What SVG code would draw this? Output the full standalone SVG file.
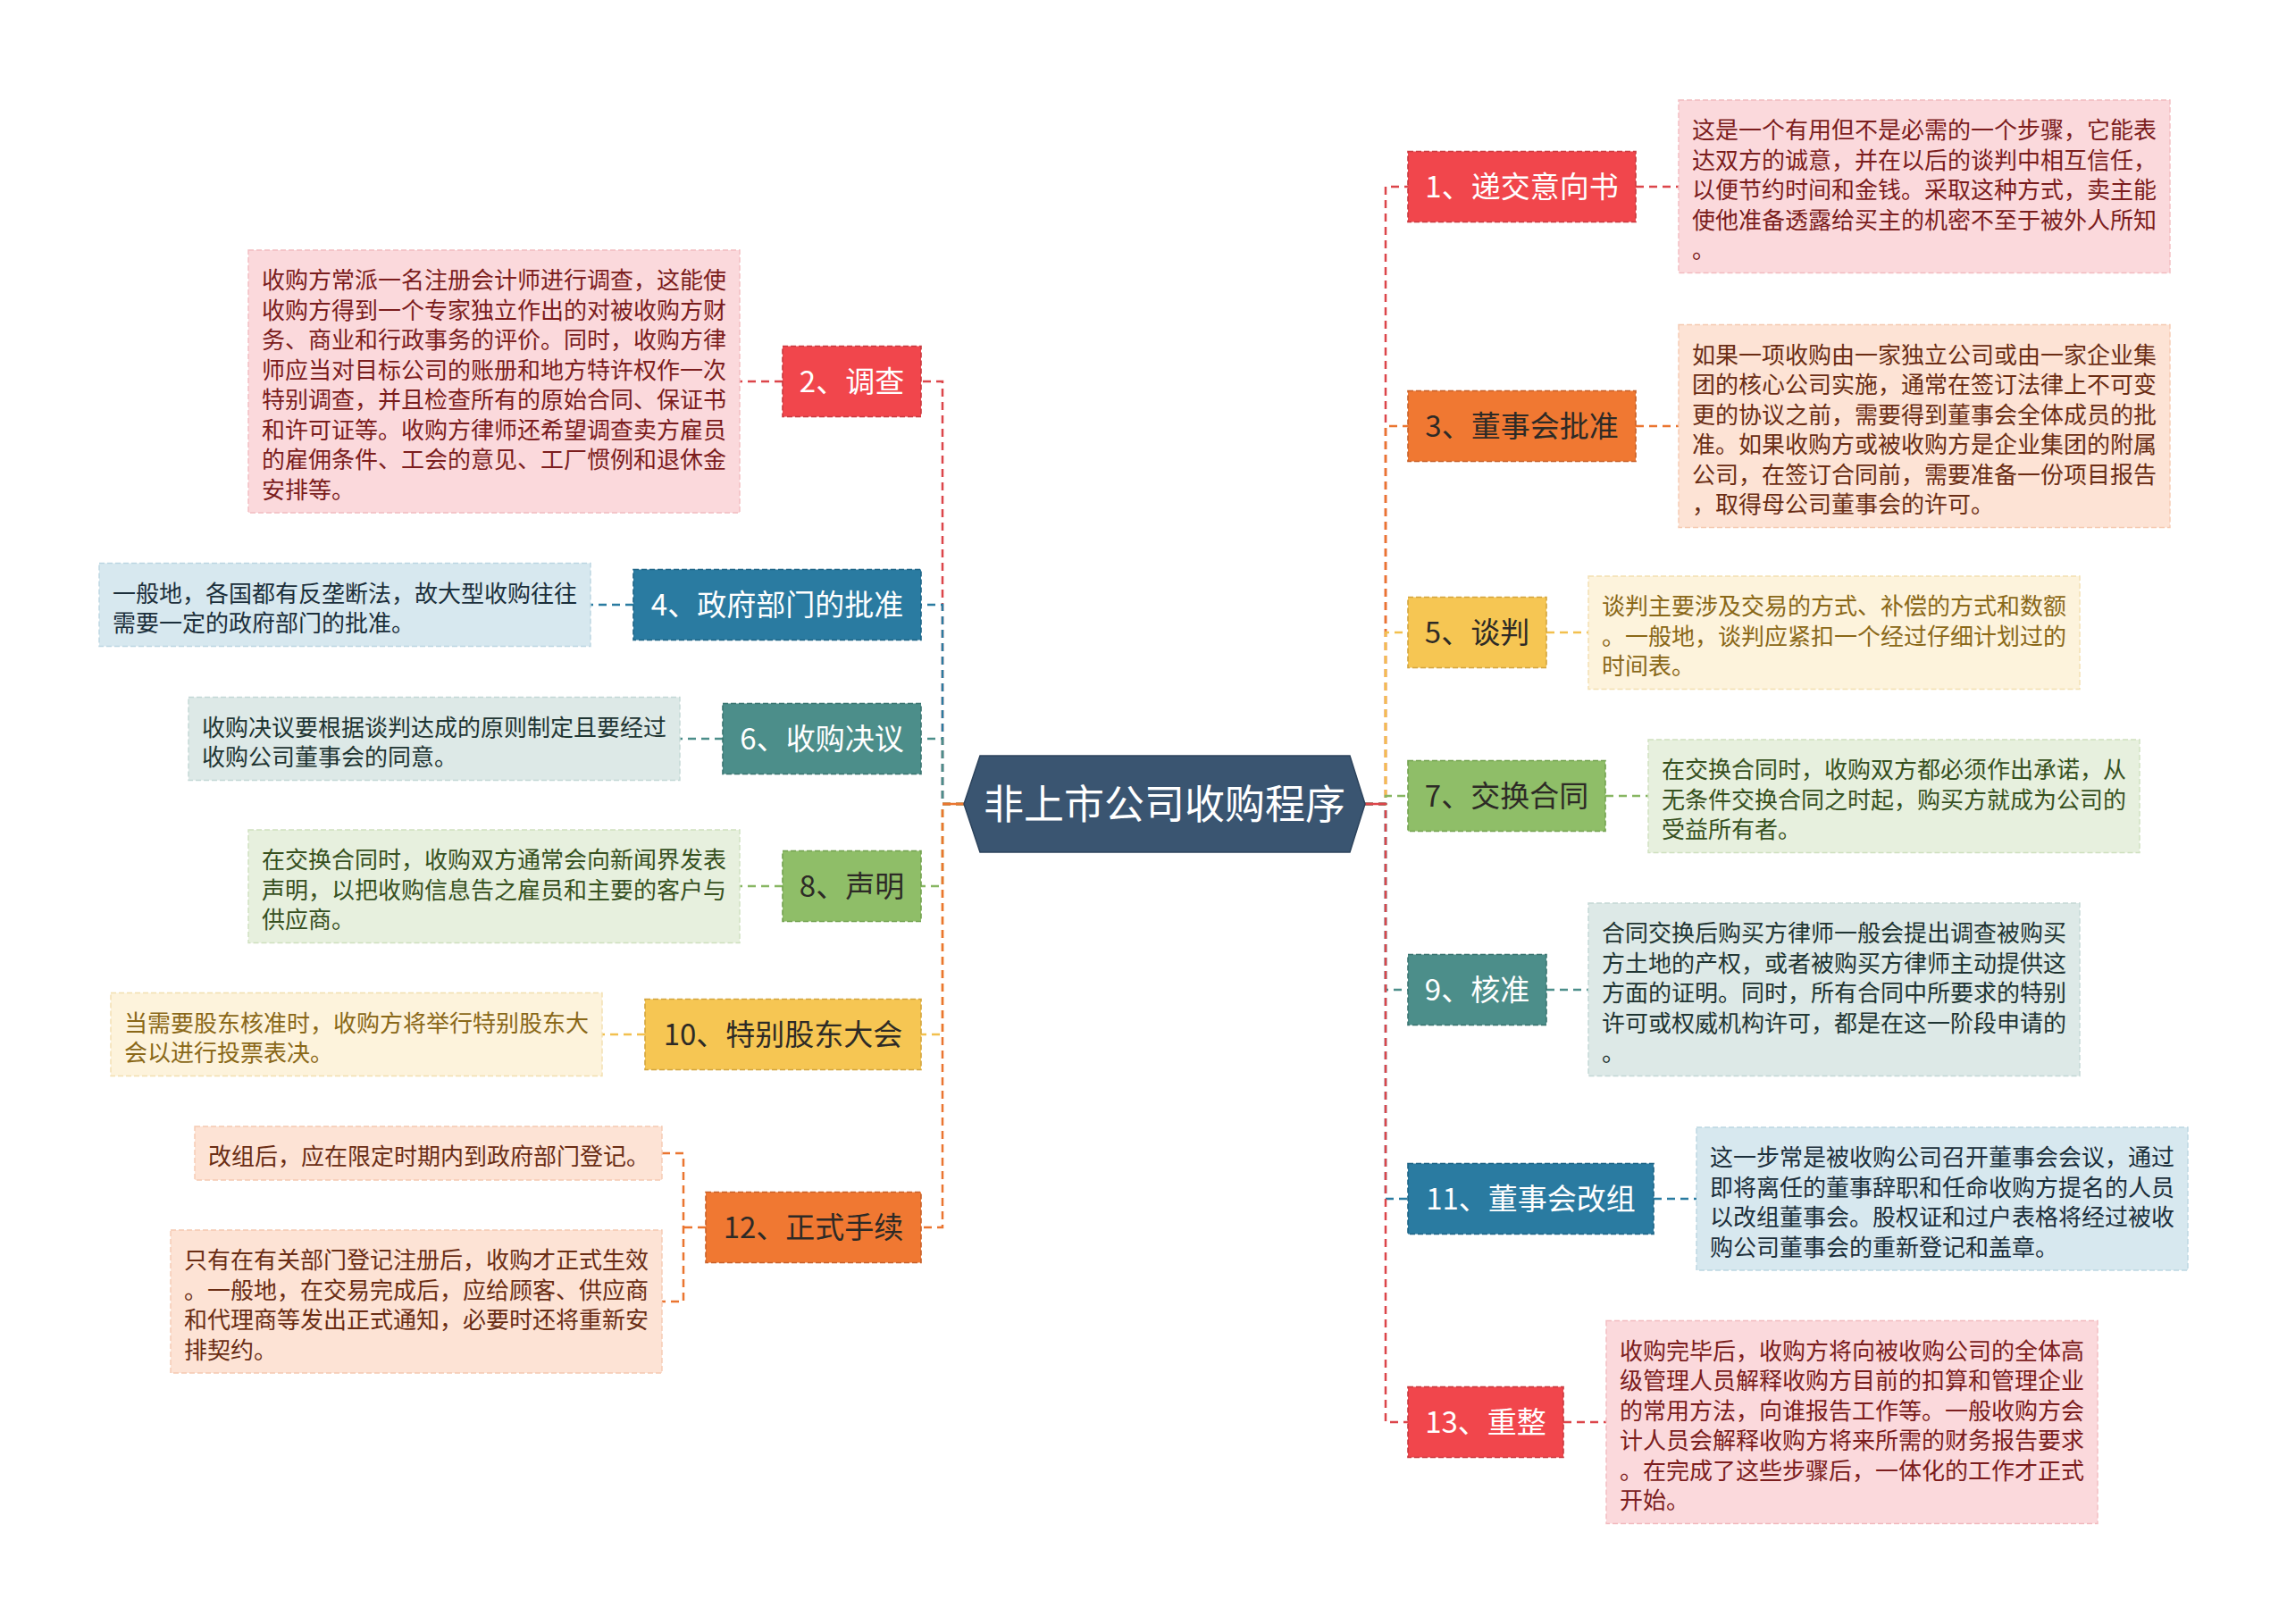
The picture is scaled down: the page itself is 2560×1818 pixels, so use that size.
<svg xmlns="http://www.w3.org/2000/svg" width="2560" height="1818" viewBox="0 0 2560 1818">
<style>
text{font-family:"Noto Sans CJK SC","Noto Sans",sans-serif}
.nt{font-size:33px;text-anchor:middle}
.dt{font-size:26px}
.e{fill:none;stroke-width:2.5;stroke-dasharray:9 6}
.nb{stroke-width:1.6;stroke-dasharray:6 3}
.db{stroke-width:1.4;stroke-dasharray:6 3}
.w{fill:#ffffff}.k{fill:#2d2a26}
.r{fill:#f1464c;stroke:#c93a3f}.o{fill:#f07832;stroke:#c8612a}.y{fill:#f6c653;stroke:#d3a53f}
.g{fill:#8fbe68;stroke:#73a250}.t{fill:#4c8e8a;stroke:#3b7571}.b{fill:#2a7ba1;stroke:#1f6586}
.er{stroke:#dc454a}.eo{stroke:#ea7530}.ey{stroke:#f2c04e}.eg{stroke:#87b662}.et{stroke:#4c8e8a}.eb{stroke:#2a7ba1}
.dr{fill:#fbd9dc;stroke:#f2bcc0}.do{fill:#fde3d5;stroke:#f5c9b1}.dy{fill:#fdf3dc;stroke:#f2dfb0}
.dg{fill:#e7f0de;stroke:#cfe0bf}.dtl{fill:#dde9e7;stroke:#c3d8d5}.dbl{fill:#d7e8ef;stroke:#bcd6e2}
.tr{fill:#7b1d1d}.to{fill:#6a2d14}.ty{fill:#8a6818}.tg{fill:#37511f}.tt{fill:#1f3533}.tb{fill:#1b2f3b}
</style>
<rect width="2560" height="1818" fill="#ffffff"/>
<g id="connectors">
<path class="e er" d="M1079 900H1055V427H1031"/>
<path class="e eb" d="M1079 900H1055V677H1031"/>
<path class="e et" d="M1079 900H1055V827H1031"/>
<path class="e eg" d="M1079 900H1055V992H1031"/>
<path class="e ey" d="M1079 900H1055V1158H1031"/>
<path class="e eo" d="M1079 900H1055V1374H1031"/>
<path class="e er" d="M1528 900H1551V209H1576"/>
<path class="e eo" d="M1528 900H1551V477H1576"/>
<path class="e ey" d="M1528 900H1551V708H1576"/>
<path class="e eg" d="M1528 900H1551V891H1576"/>
<path class="e et" d="M1528 900H1551V1108H1576"/>
<path class="e eb" d="M1528 900H1551V1342H1576"/>
<path class="e er" d="M1528 900H1551V1592H1576"/>
<path d="M1055 900H1079" stroke="#ea7530" stroke-width="2.5" fill="none"/>
<path d="M1528 900H1551" stroke="#dc454a" stroke-width="2.5" fill="none"/>
<path class="e er" d="M1831 209H1879"/>
<path class="e eo" d="M1831 477H1879"/>
<path class="e ey" d="M1731 708H1778"/>
<path class="e eg" d="M1797 891H1845"/>
<path class="e et" d="M1731 1108H1778"/>
<path class="e eb" d="M1851 1342H1899"/>
<path class="e er" d="M1750 1592H1798"/>
<path class="e er" d="M876 427H828"/>
<path class="e eb" d="M709 677H661"/>
<path class="e et" d="M809 827H761"/>
<path class="e eg" d="M876 992H828"/>
<path class="e ey" d="M722 1158H674"/>
<path class="e eo" d="M790 1374H765"/>
<path class="e eo" d="M741 1291H765V1457H741"/>
</g>
<g id="center">
<polygon points="1079,900 1097,846 1511,846 1528,900 1511,954 1097,954" fill="#3a5571" stroke="#2c435c" stroke-width="1.5"/>
<text x="1303.5" y="917" font-size="45" text-anchor="middle" fill="#ffffff">非上市公司收购程序</text>
</g>
<g id="n1"><rect class="r nb" x="1576" y="169.5" width="255" height="79"/><text class="nt w" x="1703.5" y="221">1、递交意向书</text></g>
<g id="d1"><rect class="dr db" x="1879" y="112" width="550" height="193.5"/>
<text class="dt tr"><tspan x="1894" y="155">这是一个有用但不是必需的一个步骤，它能表</tspan><tspan x="1894" y="188.5">达双方的诚意，并在以后的谈判中相互信任，</tspan><tspan x="1894" y="222">以便节约时间和金钱。采取这种方式，卖主能</tspan><tspan x="1894" y="255.5">使他准备透露给买主的机密不至于被外人所知</tspan><tspan x="1894" y="289">。</tspan></text></g>
<g id="n3"><rect class="o nb" x="1576" y="437.5" width="255" height="79"/><text class="nt k" x="1703.5" y="489">3、董事会批准</text></g>
<g id="d3"><rect class="do db" x="1879" y="363.5" width="550" height="227"/>
<text class="dt to"><tspan x="1894" y="406.5">如果一项收购由一家独立公司或由一家企业集</tspan><tspan x="1894" y="440">团的核心公司实施，通常在签订法律上不可变</tspan><tspan x="1894" y="473.5">更的协议之前，需要得到董事会全体成员的批</tspan><tspan x="1894" y="507">准。如果收购方或被收购方是企业集团的附属</tspan><tspan x="1894" y="540.5">公司，在签订合同前，需要准备一份项目报告</tspan><tspan x="1894" y="574">，取得母公司董事会的许可。</tspan></text></g>
<g id="n5"><rect class="y nb" x="1576" y="668.5" width="155" height="79"/><text class="nt k" x="1653.5" y="720">5、谈判</text></g>
<g id="d5"><rect class="dy db" x="1778" y="645" width="550" height="126.5"/>
<text class="dt ty"><tspan x="1793" y="688">谈判主要涉及交易的方式、补偿的方式和数额</tspan><tspan x="1793" y="721.5">。一般地，谈判应紧扣一个经过仔细计划过的</tspan><tspan x="1793" y="755">时间表。</tspan></text></g>
<g id="n7"><rect class="g nb" x="1576" y="851.5" width="221" height="79"/><text class="nt k" x="1686.5" y="903">7、交换合同</text></g>
<g id="d7"><rect class="dg db" x="1845" y="828" width="550" height="126.5"/>
<text class="dt tg"><tspan x="1860" y="871">在交换合同时，收购双方都必须作出承诺，从</tspan><tspan x="1860" y="904.5">无条件交换合同之时起，购买方就成为公司的</tspan><tspan x="1860" y="938">受益所有者。</tspan></text></g>
<g id="n9"><rect class="t nb" x="1576" y="1068.5" width="155" height="79"/><text class="nt w" x="1653.5" y="1120">9、核准</text></g>
<g id="d9"><rect class="dtl db" x="1778" y="1011" width="550" height="193.5"/>
<text class="dt tt"><tspan x="1793" y="1054">合同交换后购买方律师一般会提出调查被购买</tspan><tspan x="1793" y="1087.5">方土地的产权，或者被购买方律师主动提供这</tspan><tspan x="1793" y="1121">方面的证明。同时，所有合同中所要求的特别</tspan><tspan x="1793" y="1154.5">许可或权威机构许可，都是在这一阶段申请的</tspan><tspan x="1793" y="1188">。</tspan></text></g>
<g id="n11"><rect class="b nb" x="1576" y="1302.5" width="275" height="79"/><text class="nt w" x="1713.5" y="1354">11、董事会改组</text></g>
<g id="d11"><rect class="dbl db" x="1899" y="1262" width="550" height="160"/>
<text class="dt tb"><tspan x="1914" y="1305">这一步常是被收购公司召开董事会会议，通过</tspan><tspan x="1914" y="1338.5">即将离任的董事辞职和任命收购方提名的人员</tspan><tspan x="1914" y="1372">以改组董事会。股权证和过户表格将经过被收</tspan><tspan x="1914" y="1405.5">购公司董事会的重新登记和盖章。</tspan></text></g>
<g id="n13"><rect class="r nb" x="1576" y="1552.5" width="174" height="79"/><text class="nt w" x="1663" y="1604">13、重整</text></g>
<g id="d13"><rect class="dr db" x="1798" y="1478.5" width="550" height="227"/>
<text class="dt tr"><tspan x="1813" y="1521.5">收购完毕后，收购方将向被收购公司的全体高</tspan><tspan x="1813" y="1555">级管理人员解释收购方目前的扣算和管理企业</tspan><tspan x="1813" y="1588.5">的常用方法，向谁报告工作等。一般收购方会</tspan><tspan x="1813" y="1622">计人员会解释收购方将来所需的财务报告要求</tspan><tspan x="1813" y="1655.5">。在完成了这些步骤后，一体化的工作才正式</tspan><tspan x="1813" y="1689">开始。</tspan></text></g>
<g id="n2"><rect class="r nb" x="876" y="387.5" width="155" height="79"/><text class="nt w" x="953.5" y="439">2、调查</text></g>
<g id="d2"><rect class="dr db" x="278" y="280" width="550" height="294"/>
<text class="dt tr"><tspan x="293" y="323">收购方常派一名注册会计师进行调查，这能使</tspan><tspan x="293" y="356.5">收购方得到一个专家独立作出的对被收购方财</tspan><tspan x="293" y="390">务、商业和行政事务的评价。同时，收购方律</tspan><tspan x="293" y="423.5">师应当对目标公司的账册和地方特许权作一次</tspan><tspan x="293" y="457">特别调查，并且检查所有的原始合同、保证书</tspan><tspan x="293" y="490.5">和许可证等。收购方律师还希望调查卖方雇员</tspan><tspan x="293" y="524">的雇佣条件、工会的意见、工厂惯例和退休金</tspan><tspan x="293" y="557.5">安排等。</tspan></text></g>
<g id="n4"><rect class="b nb" x="709" y="637.5" width="322" height="79"/><text class="nt w" x="870" y="689">4、政府部门的批准</text></g>
<g id="d4"><rect class="dbl db" x="111" y="630.5" width="550" height="93"/>
<text class="dt tb"><tspan x="126" y="673.5">一般地，各国都有反垄断法，故大型收购往往</tspan><tspan x="126" y="707">需要一定的政府部门的批准。</tspan></text></g>
<g id="n6"><rect class="t nb" x="809" y="787.5" width="222" height="79"/><text class="nt w" x="920" y="839">6、收购决议</text></g>
<g id="d6"><rect class="dtl db" x="211" y="780.5" width="550" height="93"/>
<text class="dt tt"><tspan x="226" y="823.5">收购决议要根据谈判达成的原则制定且要经过</tspan><tspan x="226" y="857">收购公司董事会的同意。</tspan></text></g>
<g id="n8"><rect class="g nb" x="876" y="952.5" width="155" height="79"/><text class="nt k" x="953.5" y="1004">8、声明</text></g>
<g id="d8"><rect class="dg db" x="278" y="929" width="550" height="126.5"/>
<text class="dt tg"><tspan x="293" y="972">在交换合同时，收购双方通常会向新闻界发表</tspan><tspan x="293" y="1005.5">声明，以把收购信息告之雇员和主要的客户与</tspan><tspan x="293" y="1039">供应商。</tspan></text></g>
<g id="n10"><rect class="y nb" x="722" y="1118.5" width="309" height="79"/><text class="nt k" x="876.5" y="1170">10、特别股东大会</text></g>
<g id="d10"><rect class="dy db" x="124" y="1111.5" width="550" height="93"/>
<text class="dt ty"><tspan x="139" y="1154.5">当需要股东核准时，收购方将举行特别股东大</tspan><tspan x="139" y="1188">会以进行投票表决。</tspan></text></g>
<g id="n12"><rect class="o nb" x="790" y="1334.5" width="241" height="79"/><text class="nt k" x="910.5" y="1386">12、正式手续</text></g>
<g id="d12a"><rect class="do db" x="218" y="1261" width="523" height="60"/>
<text class="dt to" x="233" y="1304">改组后，应在限定时期内到政府部门登记。</text></g>
<g id="d12b"><rect class="do db" x="191" y="1377" width="550" height="160"/>
<text class="dt to"><tspan x="206" y="1420">只有在有关部门登记注册后，收购才正式生效</tspan><tspan x="206" y="1453.5">。一般地，在交易完成后，应给顾客、供应商</tspan><tspan x="206" y="1487">和代理商等发出正式通知，必要时还将重新安</tspan><tspan x="206" y="1520.5">排契约。</tspan></text></g>
</svg>
